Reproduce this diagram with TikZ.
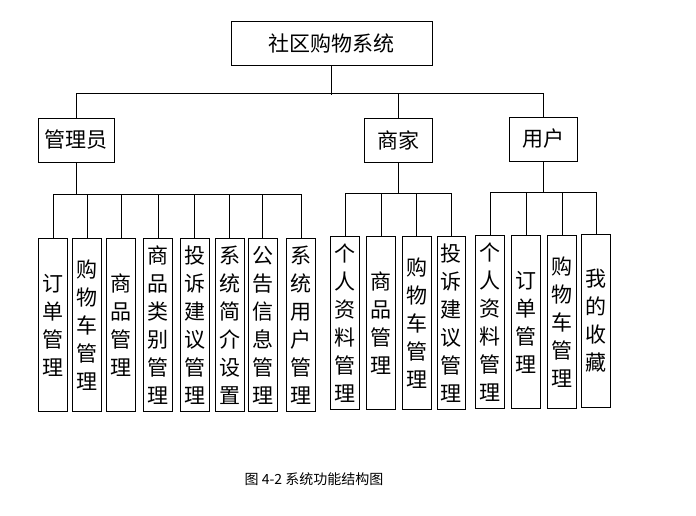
\documentclass[tikz,border=0pt]{standalone}
\usepackage{fontspec}
\setmainfont{Noto Sans CJK SC}
\tikzset{
  box/.style={draw, line width=1pt, inner sep=0pt, font=\fontsize{21}{28}\selectfont},
  topbox/.style={box, minimum height=44pt},
  colbox/.style={box, minimum width=28.6pt, minimum height=173pt, align=center},
  link/.style={line width=1pt},
}
\begin{document}
\begin{tikzpicture}[x=1pt, y=-1pt]
    \useasboundingbox (0,0) rectangle (696,515);

    % Root and the three roles
    \node[topbox, minimum width=201pt] (sys) at (331.5,43) {社区购物系统};
    \node[topbox, minimum width=76pt] (admin) at (76,140) {管理员};
    \node[topbox, minimum width=68pt] (shop) at (398,140) {商家};
    \node[topbox, minimum width=68pt] (user) at (543,139) {用户};

    \draw[link] (sys.south) -- ++(0,29);
    \draw[link] (admin.north) -- ++(0,-24) -| (user.north);
    \draw[link] (shop.north) -- ++(0,-24);

    % Administrator functions
    \node[colbox] (a1) at (53,325) {订\\单\\管\\理};
    \node[colbox] (a2) at (87,325) {购\\物\\车\\管\\理};
    \node[colbox] (a3) at (121.2,325) {商\\品\\管\\理};
    \node[colbox] (a4) at (158.2,325) {商\\品\\类\\别\\管\\理};
    \node[colbox] (a5) at (194.7,325) {投\\诉\\建\\议\\管\\理};
    \node[colbox] (a6) at (229.7,325) {系\\统\\简\\介\\设\\置};
    \node[colbox] (a7) at (262.7,325) {公\\告\\信\\息\\管\\理};
    \node[colbox] (a8) at (301,325) {系\\统\\用\\户\\管\\理};

    \coordinate (abus) at (76,194);
    \draw[link] (admin.south) -- (abus);
    \draw[link] (a1.north |- abus) -- (a8.north |- abus);
    \foreach \n in {a1,a2,a3,a4,a5,a6,a7,a8}
        \draw[link] (\n.north) -- (\n.north |- abus);

    % Merchant functions
    \node[colbox] (s1) at (345.2,323.3) {个\\人\\资\\料\\管\\理};
    \node[colbox] (s2) at (381.2,323.3) {商\\品\\管\\理};
    \node[colbox] (s3) at (416.9,323.3) {购\\物\\车\\管\\理};
    \node[colbox] (s4) at (451.4,323.3) {投\\诉\\建\\议\\管\\理};

    \coordinate (sbus) at (398,193);
    \draw[link] (shop.south) -- (sbus);
    \draw[link] (s1.north |- sbus) -- (s4.north |- sbus);
    \foreach \n in {s1,s2,s3,s4}
        \draw[link] (\n.north) -- (\n.north |- sbus);

    % User functions
    \node[colbox] (u1) at (490,322) {个\\人\\资\\料\\管\\理};
    \node[colbox] (u2) at (526,322) {订\\单\\管\\理};
    \node[colbox] (u3) at (562,322) {购\\物\\车\\管\\理};
    \node[colbox] (u4) at (596,321) {我\\的\\收\\藏};

    \coordinate (ubus) at (543,192);
    \draw[link] (user.south) -- (ubus);
    \draw[link] (u1.north |- ubus) -- (u4.north |- ubus);
    \foreach \n in {u1,u2,u3,u4}
        \draw[link] (\n.north) -- (\n.north |- ubus);

    % Caption
    \node[font=\fontsize{14}{16}\selectfont] (cap) at (314,479) {图 4-2 系统功能结构图};
\end{tikzpicture}
\end{document}
